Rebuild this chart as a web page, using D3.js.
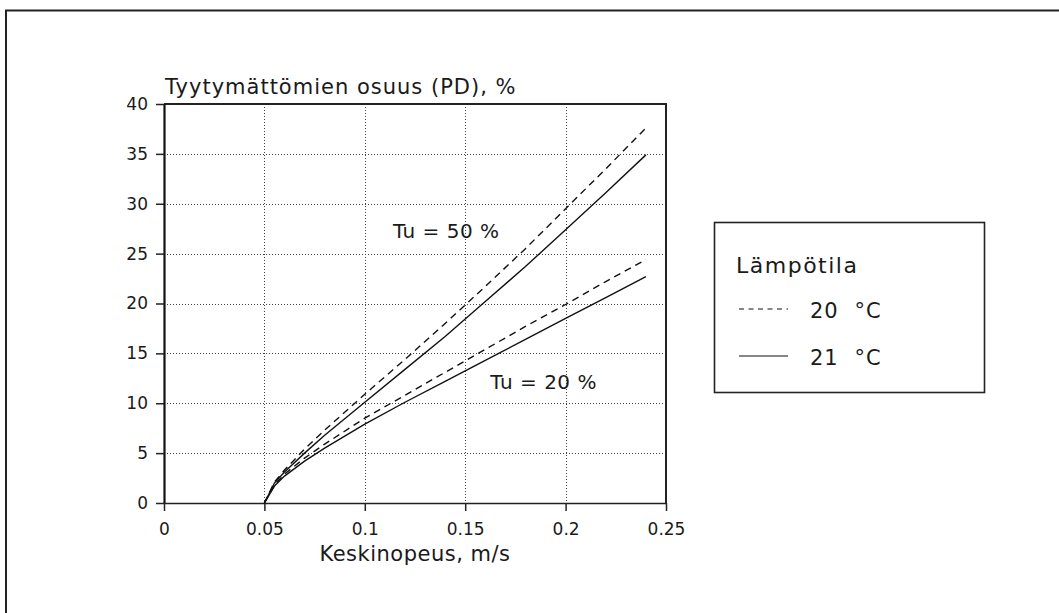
<!DOCTYPE html>
<html>
<head>
<meta charset="utf-8">
<script src="https://cdn.jsdelivr.net/npm/d3@7"></script>
<style>
  html, body { margin: 0; padding: 0; background: #fff; }
  svg { display: block; }
  text { font-family: "DejaVu Sans", sans-serif; fill: #1a1a1a; }
</style>
</head>
<body>
<svg id="chart" width="1059" height="613"></svg>
<script>
// ---- data ----
const velocity = [0.05, 0.055, 0.06, 0.07, 0.08, 0.10, 0.12, 0.14, 0.16, 0.18, 0.20, 0.22, 0.24];
const pdTu50T20 = [0, 2.1, 3.3, 5.4, 7.3, 10.9, 14.4, 18.0, 21.7, 25.5, 29.5, 33.5, 37.6];
const pdTu50T21 = [0, 2.0, 3.1, 5.0, 6.8, 10.1, 13.4, 16.7, 20.2, 23.7, 27.4, 31.1, 34.9];
const pdTu20T20 = [0, 1.8, 2.9, 4.5, 5.9, 8.5, 10.8, 13.1, 15.4, 17.7, 19.9, 22.2, 24.4];
const pdTu20T21 = [0, 1.7, 2.7, 4.2, 5.5, 7.9, 10.1, 12.2, 14.3, 16.4, 18.5, 20.6, 22.7];

const xTicks = [0, 0.05, 0.1, 0.15, 0.2, 0.25];
const xTickLabels = ["0", "0.05", "0.1", "0.15", "0.2", "0.25"];
const yTicks = [0, 5, 10, 15, 20, 25, 30, 35, 40];

const yTitle = "Tyytymättömien osuus (PD), %";
const xTitle = "Keskinopeus, m/s";
const legendTitle = "Lämpötila";
const legendLabels = ["20 °C", "21 °C"];
const annotations = [
  { text: "Tu = 50 %", x: 0.114, y: 26.6 },
  { text: "Tu = 20 %", x: 0.1625, y: 11.4 }
];

const series = [
  { values: pdTu50T20, dashed: true },
  { values: pdTu50T21, dashed: false },
  { values: pdTu20T20, dashed: true },
  { values: pdTu20T21, dashed: false }
];

// ---- layout ----
const svg = d3.select("#chart");
const L = 164, R = 666, T = 104, B = 503;
const x = d3.scaleLinear().domain([0, 0.25]).range([L, R]);
const y = d3.scaleLinear().domain([0, 40]).range([B, T]);

// outer frame (top + left only)
svg.append("path")
  .attr("d", "M6,613 V10.5 H1059")
  .attr("fill", "none").attr("stroke", "#222").attr("stroke-width", 2);

// gridlines
const grid = svg.append("g");
grid.selectAll("line.gy").data(yTicks.filter(v => v > 0 && v < 40)).enter()
  .append("line")
  .attr("x1", L).attr("x2", R)
  .attr("y1", d => Math.round(y(d)) + 0.5).attr("y2", d => Math.round(y(d)) + 0.5)
  .attr("stroke", "#444").attr("stroke-width", 1).attr("stroke-dasharray", "1,2");
grid.selectAll("line.gx").data(xTicks.filter(v => v > 0 && v < 0.25)).enter()
  .append("line")
  .attr("y1", T).attr("y2", B)
  .attr("x1", d => Math.round(x(d)) + 0.5).attr("x2", d => Math.round(x(d)) + 0.5)
  .attr("stroke", "#444").attr("stroke-width", 1).attr("stroke-dasharray", "1,2");

// plot frame top and right
svg.append("path")
  .attr("d", `M${L},${T} H${R} V${B}`)
  .attr("fill", "none").attr("stroke", "#222").attr("stroke-width", 2);

// axes
const yAxis = svg.append("g").attr("transform", `translate(${L},0)`)
  .call(d3.axisLeft(y).tickValues(yTicks).tickSize(8).tickPadding(8).tickSizeOuter(0).tickFormat(d3.format("d")));
const xAxis = svg.append("g").attr("transform", `translate(0,${B})`)
  .call(d3.axisBottom(x).tickValues(xTicks).tickSize(8).tickPadding(12).tickSizeOuter(0)
    .tickFormat((d, i) => xTickLabels[i]));

[yAxis, xAxis].forEach(g => {
  g.attr("font-size", null).attr("font-family", null);
  g.selectAll("text").style("font-family", "DejaVu Sans, sans-serif").style("font-size", "17px").attr("fill", "#1a1a1a");
  g.selectAll("line").attr("stroke", "#222").attr("stroke-width", 1.5);
});
yAxis.select(".domain").attr("stroke", "#111").attr("stroke-width", 2.2);
xAxis.select(".domain").attr("stroke", "#222").attr("stroke-width", 1.6);

// curves
const line = d3.line().x((d, i) => x(velocity[i])).y(d => y(d));
svg.append("g").selectAll("path").data(series).enter()
  .append("path")
  .attr("d", d => line(d.values))
  .attr("fill", "none")
  .attr("stroke", "#111")
  .attr("stroke-width", 1.4)
  .attr("stroke-dasharray", d => d.dashed ? "7,5" : null);

// annotations
svg.append("g").selectAll("text").data(annotations).enter()
  .append("text")
  .attr("x", d => x(d.x)).attr("y", d => y(d.y))
  .style("font-size", "20px").style("letter-spacing", "0.5px")
  .text(d => d.text);

// titles
svg.append("text").attr("x", 165).attr("y", 94)
  .style("font-size", "21px").style("letter-spacing", "1px")
  .text(yTitle);
svg.append("text").attr("x", (L + R) / 2).attr("y", 561).attr("text-anchor", "middle")
  .style("font-size", "21px").style("letter-spacing", "0.5px")
  .text(xTitle);

// legend
const lg = svg.append("g");
lg.append("rect").attr("x", 714.5).attr("y", 222.5).attr("width", 270).attr("height", 170)
  .attr("fill", "#fff").attr("stroke", "#222").attr("stroke-width", 1.6);
lg.append("text").attr("x", 736).attr("y", 273)
  .style("font-size", "22px").style("letter-spacing", "1.5px").text(legendTitle);
const legendRows = [
  { label: legendLabels[0], dashed: true, yy: 309 },
  { label: legendLabels[1], dashed: false, yy: 356 }
];
legendRows.forEach(r => {
  lg.append("line").attr("x1", 739).attr("x2", 788).attr("y1", r.yy).attr("y2", r.yy)
    .attr("stroke", "#111").attr("stroke-width", 1.2)
    .attr("stroke-dasharray", r.dashed ? "5,4.5" : null);
  lg.append("text").attr("x", 810).attr("y", r.yy + 9)
    .style("font-size", "21px").style("letter-spacing", "1px").style("word-spacing", "8px")
    .text(r.label);
});
</script>
</body>
</html>
